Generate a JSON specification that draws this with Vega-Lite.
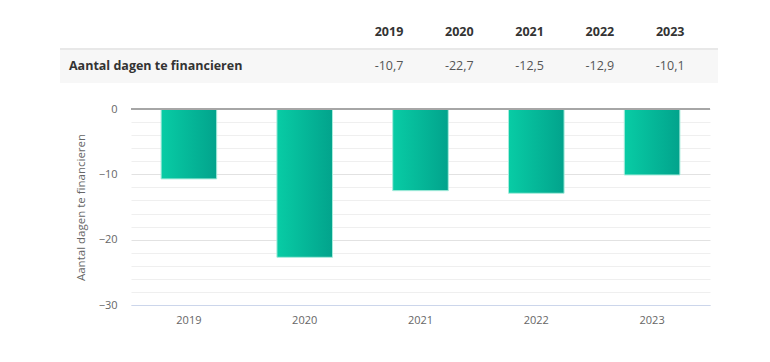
{
  "$schema": "https://vega.github.io/schema/vega-lite/v6.json",
  "padding": {"left": 58, "top": 15, "right": 5, "bottom": 5},
  "background": "white",
  "config": {"view": {"stroke": null}, "font": "Open Sans"},
  "data": {"values": [
    {"col": 0, "year": "2019", "value": -10.7, "label": "-10,7"},
    {"col": 1, "year": "2020", "value": -22.7, "label": "-22,7"},
    {"col": 2, "year": "2021", "value": -12.5, "label": "-12,5"},
    {"col": 3, "year": "2022", "value": -12.9, "label": "-12,9"},
    {"col": 4, "year": "2023", "value": -10.1, "label": "-10,1"}
  ]},
  "spacing": 20,
  "vconcat": [
    {
      "width": 587,
      "height": 68,
      "layer": [
        {
          "data": {"values": [{"row": "data", "x0": -4.68, "x1": 4.68}]},
          "mark": {"type": "rect", "color": "#f7f7f7"},
          "encoding": {
            "x": {"field": "x0", "type": "quantitative", "scale": {"domain": [-3.67, 4.68], "nice": false, "zero": false}, "axis": null},
            "x2": {"field": "x1"},
            "y": {"field": "row", "type": "nominal", "scale": {"domain": ["header", "data"], "paddingInner": 0, "paddingOuter": 0}, "axis": null}
          }
        },
        {
          "data": {"values": [{"row": "data", "x0": -4.68, "x1": 4.68}]},
          "mark": {"type": "rule", "color": "#e8e8e8", "strokeWidth": 2},
          "encoding": {
            "x": {"field": "x0", "type": "quantitative"},
            "x2": {"field": "x1"},
            "y": {"field": "row", "type": "nominal", "bandPosition": 0}
          }
        },
        {
          "mark": {"type": "text", "fontWeight": "bold", "fontSize": 12.5, "color": "#333333"},
          "encoding": {
            "x": {"field": "col", "type": "quantitative"},
            "y": {"datum": "header", "type": "nominal"},
            "text": {"field": "year"}
          }
        },
        {
          "mark": {"type": "text", "fontSize": 12.5, "color": "#555555"},
          "encoding": {
            "x": {"field": "col", "type": "quantitative"},
            "y": {"datum": "data", "type": "nominal"},
            "text": {"field": "label"}
          }
        },
        {
          "data": {"values": [{"row": "data", "x0": -4.68, "name": "Aantal dagen te financieren"}]},
          "mark": {"type": "text", "align": "left", "dx": 9, "fontWeight": "bold", "fontSize": 12.5, "color": "#333333"},
          "encoding": {
            "x": {"field": "x0", "type": "quantitative"},
            "y": {"field": "row", "type": "nominal"},
            "text": {"field": "name"}
          }
        }
      ]
    },
    {
      "width": 579,
      "height": 196,
      "layer": [
        {
          "mark": {
            "type": "bar",
            "color": {"gradient": "linear", "x1": 0, "x2": 1, "y1": 0, "y2": 0,
              "stops": [{"offset": 0, "color": "#08cca5"}, {"offset": 1, "color": "#02a38c"}]},
            "stroke": "#a8ecdc",
            "strokeWidth": 1
          },
          "encoding": {
            "x": {"field": "year", "type": "nominal", "scale": {"paddingInner": 0.52, "paddingOuter": 0.26},
              "axis": {"title": null, "labelAngle": 0, "ticks": false, "domainColor": "#ccd6eb", "domainWidth": 1, "labelPadding": 9, "labelFontSize": 11, "labelColor": "#666666", "grid": false}},
            "y": {"field": "value", "type": "quantitative", "scale": {"domain": [-30, 0], "nice": false},
              "axis": {
                "title": "Aantal dagen te financieren",
                "values": [0, -2, -4, -6, -8, -10, -12, -14, -16, -18, -20, -22, -24, -26, -28, -30],
                "tickCount": 20,
                "labelExpr": "datum.value % 10 === 0 ? datum.label : ''",
                "labelOverlap": false,
                "gridColor": {"condition": {"test": "datum.value % 10 === 0", "value": "#e2e2e2"}, "value": "#efefef"},
                "domain": false, "ticks": false, "labelPadding": 14, "labelFontSize": 11, "labelColor": "#666666",
                "titleFontSize": 11.5, "titleFontWeight": "normal", "titleColor": "#666666", "titlePadding": 12
              }}
          }
        },
        {
          "data": {"values": [{"zero": 0}]},
          "mark": {"type": "rule", "color": "#a6a6a6", "strokeWidth": 2},
          "encoding": {"y": {"field": "zero", "type": "quantitative"}}
        }
      ]
    }
  ]
}
